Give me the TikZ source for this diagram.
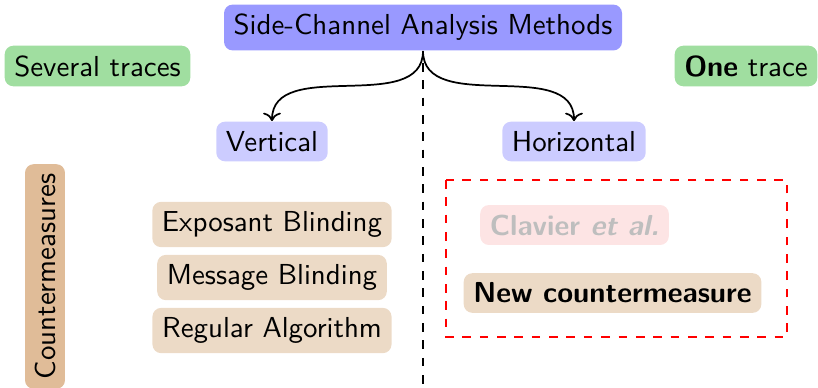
\documentclass[tikz,border=0pt]{standalone}
\usetikzlibrary{arrows.meta}
\definecolor{topblue}{RGB}{153,153,255}
\definecolor{subblue}{RGB}{204,204,255}
\definecolor{tracegreen}{RGB}{160,222,160}
\definecolor{cmtan}{RGB}{236,218,198}
\definecolor{cmdark}{RGB}{224,188,152}
\definecolor{clavpink}{RGB}{253,228,228}
\definecolor{clavtext}{RGB}{190,190,190}
\begin{document}
\begin{tikzpicture}[x=0.346pt,y=-0.346pt, font=\sffamily,
  box/.style={rounded corners=3pt, inner sep=3.33pt, text=black},
  topbox/.style={box, fill=topblue},
  subbox/.style={box, fill=subblue},
  tracebox/.style={box, fill=tracegreen},
  cmbox/.style={box, fill=cmtan},
  cmhead/.style={box, fill=cmdark, rotate=90},
  clavbox/.style={box, fill=clavpink, text=clavtext},
  branch/.style={semithick, ->},
  divider/.style={semithick, dashed},
  redframe/.style={thick, dashed, red}]
\useasboundingbox (0,0) rectangle (818,387);

\node[topbox] (top) at (423,27.5) {Side-Channel Analysis Methods};
\node[tracebox] (several) at (97.5,66) {Several traces};
\node[tracebox] (one) at (746,66) {\textbf{One} trace};
\node[subbox] (vert) at (272,141.5) {Vertical};
\node[subbox] (horiz) at (574,141.5) {Horizontal};

\coordinate (dtop) at (423,63);
\coordinate (dbot) at (423,387);
\draw[divider] (dtop) -- (dbot);

\draw[branch] (top.south) to[out=-90,in=90] (vert.north);
\draw[branch] (top.south) to[out=-90,in=90] (horiz.north);

\node[cmhead] (cm) at (45,276.5) {Countermeasures};
\node[cmbox] (exp) at (272,224.5) {Exposant Blinding};
\node[cmbox] (msg) at (272,277.5) {Message Blinding};
\node[cmbox] (reg) at (272,330.5) {Regular Algorithm};

\node[clavbox] (clav) at (574.5,225) {\textbf{Clavier \textit{et al.}}};
\node[cmbox] (new) at (612.5,293) {\textbf{New countermeasure}};
\coordinate (rf1) at (446,180);
\coordinate (rf2) at (787,337);
\draw[redframe] (rf1) rectangle (rf2);
\end{tikzpicture}
\end{document}
